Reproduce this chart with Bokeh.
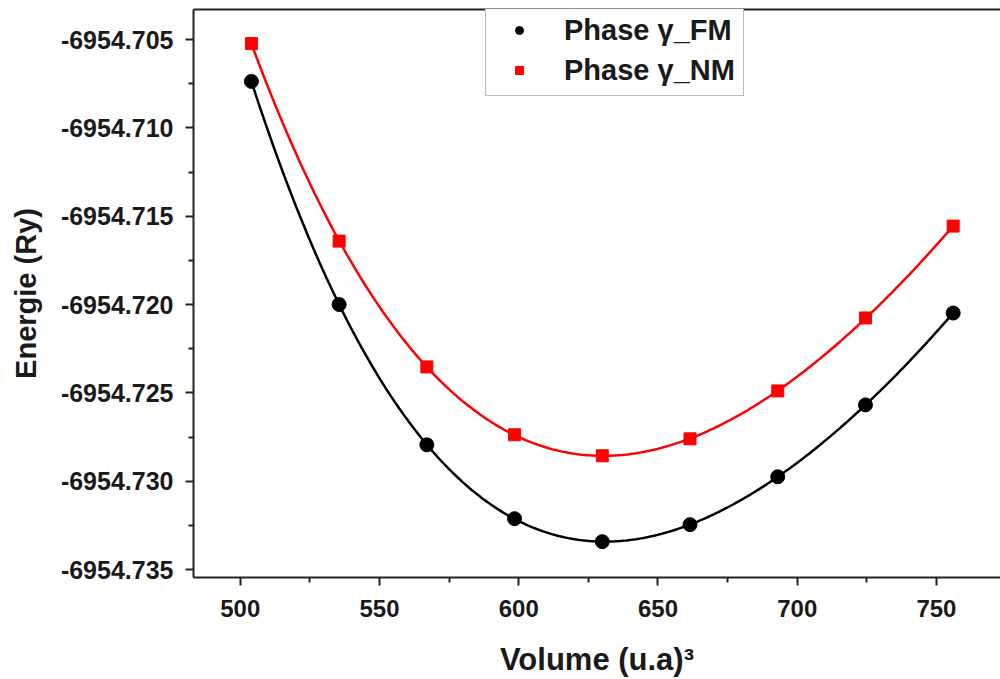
import numpy as np
from bokeh.plotting import figure
from bokeh.models import (Range1d, FixedTicker, LinearAxis, Legend, LegendItem,
                          CustomJSTickFormatter)
from bokeh.embed import file_html
from bokeh.resources import INLINE

# ---- data ----
volume = [504.0, 535.5, 567.0, 598.5, 630.0, 661.5, 693.0, 724.5, 756.0]
energy_fm = [-6954.70737, -6954.72000, -6954.72794, -6954.73212, -6954.73342,
             -6954.73246, -6954.72975, -6954.72568, -6954.72048]
energy_nm = [-6954.70523, -6954.71641, -6954.72353, -6954.72737, -6954.72856,
             -6954.72760, -6954.72489, -6954.72076, -6954.71556]
x_ticks = [500, 550, 600, 650, 700, 750]
y_ticks = [-6954.735, -6954.730, -6954.725, -6954.720, -6954.715, -6954.710, -6954.705]
label_fm = "Phase γ_FM"
label_nm = "Phase γ_NM"

FONT = "Liberation Sans"
TXT = "#1a1a1a"

p = figure(width=1000, height=679, output_backend="svg", toolbar_location=None,
           x_range=Range1d(483.2, 773.0), y_range=Range1d(-6954.73545, -6954.7033),
           min_border_left=193, min_border_right=0, min_border_top=9, min_border_bottom=101)
p.outline_line_color = None
p.xgrid.visible = False
p.ygrid.visible = False
p.background_fill_color = "white"
p.border_fill_color = "white"

# smooth fitted curves (polynomial fit of the data)
xs = np.linspace(volume[0], volume[-1], 300)
vx = np.array(volume)
ref = -6954.72
for ys_data, col in ((energy_fm, "black"), (energy_nm, "#ff0000")):
    coef = np.polyfit(vx - 630.0, np.array(ys_data) - ref, 4)
    p.line(xs, np.polyval(coef, xs - 630.0) + ref, line_color=col, line_width=2.5)

r_fm = p.scatter(volume, energy_fm, marker="circle", size=14, fill_color="black", line_color="black")
r_nm = p.scatter(volume, energy_nm, marker="square", size=12, fill_color="#ff0000", line_color="#ff0000")

# axes styling
for ax in (p.xaxis[0], p.yaxis[0]):
    ax.axis_line_width = 2
    ax.axis_line_color = "#222222"
    ax.major_tick_line_width = 2
    ax.minor_tick_line_width = 2
    ax.major_tick_line_color = "#222222"
    ax.minor_tick_line_color = "#222222"
    ax.major_tick_out = 8
    ax.major_tick_in = 0
    ax.minor_tick_out = 5
    ax.minor_tick_in = 0
    ax.major_label_text_font = FONT
    ax.major_label_text_font_style = "bold"
    ax.major_label_text_color = TXT
    ax.axis_label_text_font = FONT
    ax.axis_label_text_font_style = "bold"
    ax.axis_label_text_color = TXT

p.xaxis[0].ticker = FixedTicker(ticks=x_ticks, minor_ticks=[x + 25 for x in x_ticks])
p.yaxis[0].ticker = FixedTicker(ticks=y_ticks, minor_ticks=[y + 0.0025 for y in y_ticks])
p.yaxis[0].formatter = CustomJSTickFormatter(code="return tick.toFixed(3);")
p.xaxis[0].major_label_text_font_size = "24px"
p.yaxis[0].major_label_text_font_size = "25px"
p.xaxis[0].major_label_standoff = 14
p.yaxis[0].major_label_standoff = 12
p.xaxis[0].axis_label = "Volume (u.a)³"
p.xaxis[0].axis_label_text_font_size = "31px"
p.xaxis[0].axis_label_standoff = 22
p.yaxis[0].axis_label = "Energie (Ry)"
p.yaxis[0].axis_label_text_font_size = "29px"
p.yaxis[0].axis_label_standoff = 16

# top border line
top = LinearAxis(ticker=FixedTicker(ticks=[]), major_label_text_font_size="0px",
                 major_tick_out=0, minor_tick_out=0, axis_line_width=2, axis_line_color="#222222")
p.add_layout(top, "above")

legend = Legend(items=[LegendItem(label=label_fm, renderers=[r_fm]),
                       LegendItem(label=label_nm, renderers=[r_nm])],
                location=(292, 481), orientation="vertical",
                label_text_font=FONT, label_text_font_style="bold", label_text_font_size="29px",
                label_text_color=TXT, glyph_width=50, glyph_height=20, label_height=34,
                label_standoff=20, spacing=6, padding=8, margin=0,
                border_line_color="#777777", border_line_width=1.5,
                background_fill_color="white", background_fill_alpha=1.0)
p.add_layout(legend, "center")

open("out.html", "w").write(file_html(p, INLINE))
